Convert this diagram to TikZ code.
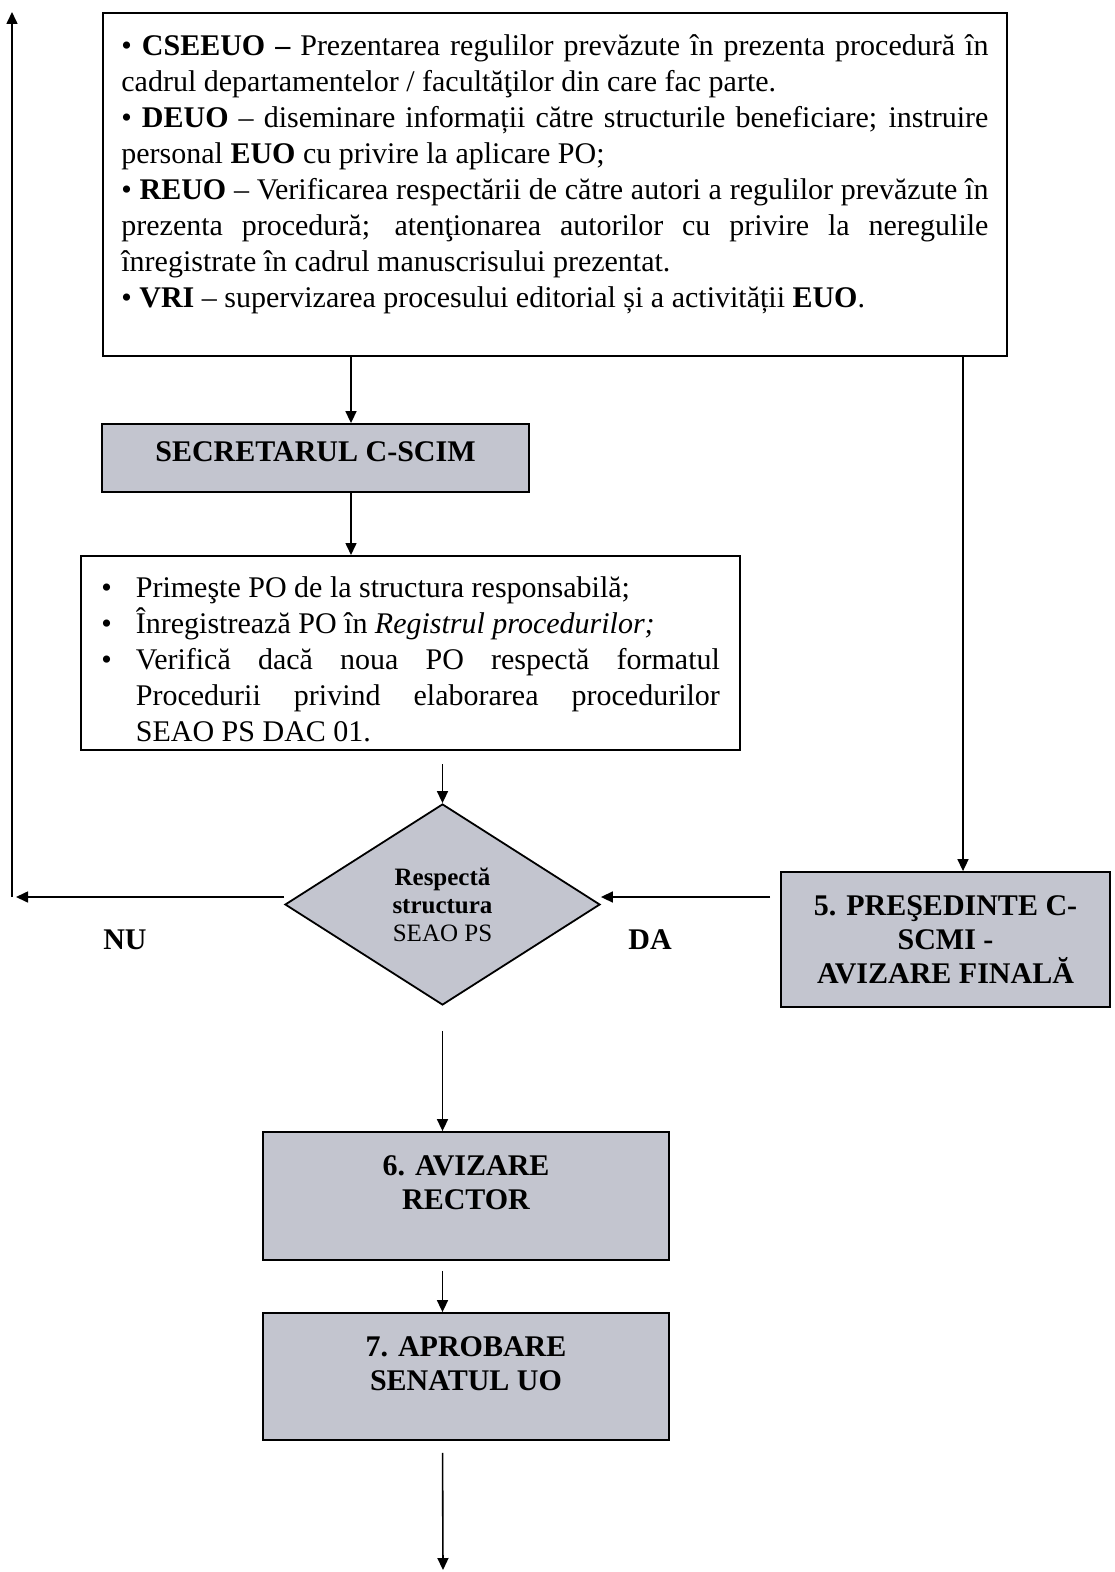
\documentclass[tikz,border=0pt]{standalone}
\usepackage{fontspec}
\setmainfont{Liberation Serif}
\usepackage{xcolor}
\usetikzlibrary{positioning, arrows.meta, shapes.geometric}
\definecolor{stepgray}{HTML}{C3C5CF}

\tikzset{
    flow/.style={draw, line width=0.9pt},
    graybox/.style={flow, fill=stepgray, align=center,
                    font=\fontsize{15}{17}\selectfont\bfseries},
    arr/.style={line width=0.8pt, -{Triangle[length=6pt, width=5.5pt]}},
}

\begin{document}
\begin{tikzpicture}[x=0.5pt, y=-0.5pt]
    \useasboundingbox (0,0) rectangle (1114,1572);
    \coordinate (colV) at (12,0);
    \coordinate (colL) at (16,0);
    \coordinate (colA) at (351,0);
    \coordinate (colR) at (963,0);
    \coordinate (row) at (0,897);
    \coordinate (out) at (443,1570);

    \node[flow, anchor=north west, inner xsep=9.25pt, inner ysep=11pt,
          text width=433.5pt, align=justify, font=\fontsize{15}{18}\selectfont]
          (roles) at (102,12) {%
      \sloppy
      • \textbf{CSEEUO –} Prezentarea regulilor prevăzute în prezenta procedură în\linebreak
      cadrul departamentelor / facultăţilor din care fac parte.\\
      • \textbf{DEUO} – diseminare informații către structurile beneficiare; instruire\linebreak
      personal \textbf{EUO} cu privire la aplicare PO;\\
      • \textbf{REUO} – Verificarea respectării de către autori a regulilor prevăzute în\linebreak
      prezenta procedură; atenţionarea autorilor cu privire la neregulile\linebreak
      înregistrate în cadrul manuscrisului prezentat.\\
      • \textbf{VRI} – supervizarea procesului editorial și a activității \textbf{EUO}.\par
      \vspace{10pt}\hrule height 0pt};

    \node[graybox, minimum width=213.5pt, minimum height=34pt, text depth=6pt]
          (sec) at (315.5,458) {SECRETARUL C-SCIM};

    \node[flow, anchor=north west, inner xsep=4pt, inner ysep=4pt,
          text width=321.5pt, align=justify, font=\fontsize{15}{18}\selectfont]
          (tasks) at (80,555) {%
      \sloppy
      \rule{0pt}{17pt}\parshape 1 23.5pt 292pt
      \llap{•\hspace{12pt}}Primeşte PO de la structura responsabilă;\par
      \noindent\parshape 1 23.5pt 292pt
      \llap{•\hspace{12pt}}Înregistrează PO în \textit{Registrul procedurilor;}\par
      \noindent\parshape 1 23.5pt 292pt
      \llap{•\hspace{12pt}}Verifică dacă noua PO respectă formatul\linebreak
      Procedurii privind elaborarea procedurilor\linebreak
      SEAO PS DAC 01.\par};

    \node[flow, diamond, fill=stepgray, minimum width=157.5pt, minimum height=100.5pt,
          inner sep=0pt, align=center, font=\fontsize{12.5}{14}\selectfont]
          (check) at (442.5,904.5) {\textbf{Respectă}\\\textbf{structura}\\SEAO PS};

    \node[graybox, minimum width=164.5pt, minimum height=67.5pt]
          (pres) at (945.5,939.5) {5. PREŞEDINTE C-\\SCMI -\\AVIZARE FINALĂ};

    \node[font=\fontsize{15}{17}\selectfont\bfseries] (no) at (125,940) {NU};
    \node[font=\fontsize{15}{17}\selectfont\bfseries] (yes) at (650,940) {DA};

    \node[graybox, minimum width=203pt, minimum height=64pt, text depth=13pt]
          (avz) at (466,1196) {6. AVIZARE\\RECTOR};
    \node[graybox, minimum width=203pt, minimum height=63.5pt, text depth=13pt]
          (apr) at (466,1376.5) {7. APROBARE\\SENATUL UO};

    \draw[arr] (roles.south -| colA) -- (sec.north -| colA);
    \draw[arr] (sec.south -| colA) -- (tasks.north -| colA);
    \draw[arr, shorten <=6.5pt] (tasks.south -| check.north) -- (check.north);
    \draw[arr] (check.west |- row) -- (colL |- row);
    \draw[arr] (colV |- row) -- (colV |- roles.north);
    \draw[arr, shorten <=5pt] (pres.west |- row) -- (check.east |- row);
    \draw[arr] (roles.south -| colR) -- (pres.north -| colR);
    \draw[arr, shorten <=12.5pt] (check.south) -- (avz.north -| check.south);
    \draw[arr, shorten <=5pt] (avz.south -| check.south) -- (apr.north -| check.south);
    \draw[arr, shorten <=6pt] (apr.south -| check.south) -- (out);
\end{tikzpicture}
\end{document}
